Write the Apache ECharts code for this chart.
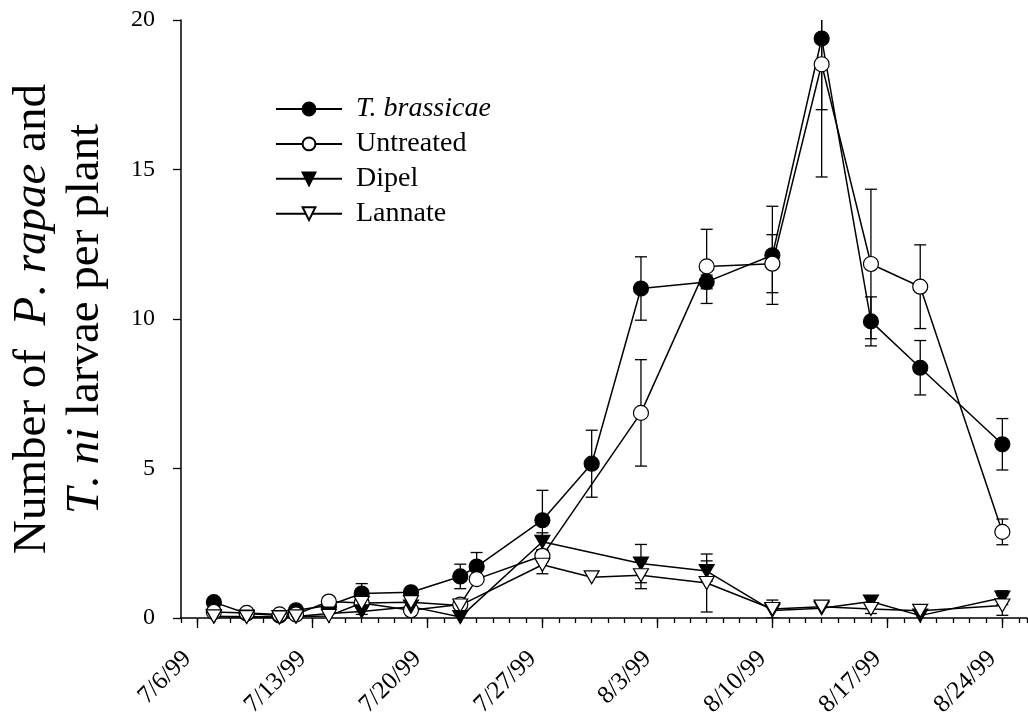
<!DOCTYPE html>
<html><head><meta charset="utf-8">
<script src="https://cdn.jsdelivr.net/npm/echarts@6/dist/echarts.min.js"></script>
<style>html,body{margin:0;padding:0;background:#fff}#c{width:1028px;height:721px}</style>
</head><body><div id="c"></div>
<script>
// ---- data ----
const seriesNames = ['T. brassicae', 'Untreated', 'Dipel', 'Lannate'];

const tbDates  = ['7/7','7/9','7/11','7/12','7/14','7/16','7/19','7/22','7/23','7/27','7/30','8/2','8/6','8/10','8/13','8/16','8/19','8/24'];
const tbValues = [0.53, 0.15, 0.08, 0.26, 0.42, 0.82, 0.86, 1.39, 1.72, 3.27, 5.16, 11.02, 11.24, 12.13, 19.38, 9.92, 8.37, 5.81];
const tbErrors = [0, 0, 0, 0, 0.1, 0.33, 0.1, 0.41, 0.47, 1.0, 1.12, 1.06, 0.23, 1.64, 2.38, 0.82, 0.91, 0.86];

const utDates  = ['7/7','7/9','7/11','7/12','7/14','7/16','7/19','7/22','7/23','7/27','8/2','8/6','8/10','8/13','8/16','8/19','8/24'];
const utValues = [0.2, 0.17, 0.12, 0.12, 0.55, 0.5, 0.26, 0.45, 1.3, 2.08, 6.86, 11.76, 11.85, 18.52, 11.84, 11.08, 2.88];
const utErrors = [0, 0, 0, 0, 0, 0, 0, 0, 0, 0.2, 1.78, 1.24, 0.97, 3.77, 2.5, 1.4, 0.43];

const dpDates  = ['7/7','7/9','7/11','7/12','7/14','7/16','7/19','7/22','7/27','8/2','8/6','8/10','8/13','8/16','8/19','8/24'];
const dpValues = [0.05, 0.05, 0.03, 0.05, 0.15, 0.22, 0.38, 0.03, 2.55, 1.82, 1.57, 0.25, 0.33, 0.55, 0.08, 0.68];
const dpErrors = [0, 0, 0, 0, 0, 0.1, 0, 0, 0.3, 0.64, 0.34, 0, 0, 0.1, 0, 0.23];

const lnDates  = ['7/7','7/9','7/11','7/12','7/14','7/16','7/19','7/22','7/27','7/30','8/2','8/6','8/10','8/13','8/16','8/19','8/24'];
const lnValues = [0.05, 0.03, 0.02, 0.05, 0.07, 0.5, 0.53, 0.42, 1.78, 1.36, 1.43, 1.17, 0.3, 0.38, 0.3, 0.24, 0.42];
const lnErrors = [0, 0, 0, 0, 0, 0, 0, 0, 0.3, 0, 0.45, 0.97, 0.3, 0, 0.15, 0, 0.33];

const xTickLabels = ['7/6/99','7/13/99','7/20/99','7/27/99','8/3/99','8/10/99','8/17/99','8/24/99'];
const yTicks = [0, 5, 10, 15, 20];

// ---- helpers ----
// day offset counted from 7/6/99
function dayOf(s) {
  const p = s.split('/').map(Number);
  return p[0] === 7 ? p[1] - 6 : p[1] + 25;
}
const xTickValues = xTickLabels.map(dayOf);
const FONT = '"Liberation Serif", "Times New Roman", serif';

function pts(dates, vals) { return dates.map((d, i) => [dayOf(d), vals[i]]); }
function errs(dates, vals, es) {
  const out = [];
  dates.forEach((d, i) => { if (es[i] > 0) out.push([dayOf(d), vals[i], es[i]]); });
  return out;
}

function renderErr(params, api) {
  const x = api.value(0), v = api.value(1), e = api.value(2);
  const top = api.coord([x, v + e]);
  const bot = api.coord([x, v - e]);
  const hw = 6;
  const style = { stroke: '#000', lineWidth: 1.3, fill: null };
  return { type: 'group', children: [
    { type: 'line', shape: { x1: top[0], y1: top[1], x2: bot[0], y2: bot[1] }, style: style },
    { type: 'line', shape: { x1: top[0] - hw, y1: top[1], x2: top[0] + hw, y2: top[1] }, style: style },
    { type: 'line', shape: { x1: bot[0] - hw, y1: bot[1], x2: bot[0] + hw, y2: bot[1] }, style: style }
  ]};
}

const allErr = [].concat(
  errs(tbDates, tbValues, tbErrors),
  errs(utDates, utValues, utErrors),
  errs(dpDates, dpValues, dpErrors),
  errs(lnDates, lnValues, lnErrors)
);

const lineStyle = { color: '#000', width: 1.5 };
function lineSeries(name, data, symbol, fill, size, rot) {
  return {
    type: 'line', name: name, data: data, z: 3,
    symbol: symbol, symbolSize: size, symbolRotate: rot,
    showAllSymbol: true,
    lineStyle: lineStyle,
    itemStyle: { color: fill, borderColor: '#000', borderWidth: 1.2, opacity: 1 },
    emphasis: { disabled: true },
    animation: false
  };
}

const axisLineStyle = { color: '#000', width: 1.5 };
const tickStyle = { color: '#000', width: 1.3 };
const legRich = { fontFamily: FONT, fontSize: 28, color: '#000', lineHeight: 30, padding: [0, 0, 0, 9] };

const option = {
  backgroundColor: '#fff',
  animation: false,
  grid: { left: 181, right: 1, top: 20, bottom: 103, containLabel: false, outerBoundsMode: 'none' },
  legend: {
    data: seriesNames,
    orient: 'vertical',
    left: 275, top: 94, padding: 0,
    itemWidth: 66, itemHeight: 16, itemGap: 4.9,
    selectedMode: false,
    formatter: function (n) { return n === 'T. brassicae' ? '{i|' + n + '}' : '{n|' + n + '}'; },
    textStyle: {
      fontFamily: FONT, fontSize: 28, color: '#000', lineHeight: 30,
      rich: {
        i: Object.assign({}, legRich, { fontStyle: 'italic' }),
        n: legRich
      }
    }
  },
  xAxis: [
    {
      type: 'value', min: -1, max: 50.5, interval: 1, position: 'bottom',
      axisLine: { show: true, onZero: false, lineStyle: axisLineStyle },
      axisTick: { show: true, length: 5, lineStyle: tickStyle },
      axisLabel: { show: false },
      splitLine: { show: false }
    },
    {
      type: 'value', min: -1, max: 50.5, position: 'bottom',
      axisLine: { show: false, onZero: false },
      axisTick: { show: true, length: 10, customValues: xTickValues, lineStyle: tickStyle },
      axisLabel: {
        show: true, customValues: xTickValues, rotate: 45, margin: 27, padding: [0, 14, 0, 0],
        fontFamily: FONT, fontSize: 25, color: '#000',
        formatter: function (v) { const i = xTickValues.indexOf(Math.round(v)); return i >= 0 ? xTickLabels[i] : ''; }
      },
      splitLine: { show: false }
    }
  ],
  yAxis: {
    type: 'value', min: 0, max: 20, interval: 5,
    axisLine: { show: true, onZero: false, lineStyle: axisLineStyle },
    axisTick: { show: true, length: 8, lineStyle: tickStyle },
    axisLabel: { margin: 26, fontFamily: FONT, fontSize: 24, color: '#000',
      formatter: function (v) { return yTicks.indexOf(v) >= 0 ? String(v) : ''; } },
    splitLine: { show: false },
    name: '{n|Number of  }{i|P}{n|. }{i|rapae}{n| and}\n{i|T}{n|. }{i|ni}{n| larvae per plant}',
    nameLocation: 'middle',
    nameGap: 69,
    nameTextStyle: {
      fontFamily: FONT, fontSize: 47, color: '#000', lineHeight: 53,
      rich: {
        n: { fontFamily: FONT, fontSize: 47, color: '#000', lineHeight: 53 },
        i: { fontFamily: FONT, fontSize: 47, color: '#000', lineHeight: 53, fontStyle: 'italic' }
      }
    }
  },
  series: [
    { type: 'custom', name: 'errors', data: allErr, renderItem: renderErr, z: 2, clip: true, silent: true, animation: false },
    lineSeries(seriesNames[0], pts(tbDates, tbValues), 'circle', '#000', 15, 0),
    lineSeries(seriesNames[1], pts(utDates, utValues), 'circle', '#fff', 15, 0),
    lineSeries(seriesNames[2], pts(dpDates, dpValues), 'triangle', '#000', [15, 13], 180),
    lineSeries(seriesNames[3], pts(lnDates, lnValues), 'triangle', '#fff', [15, 13], 180)
  ]
};

const chart = echarts.init(document.getElementById('c'), null, { renderer: 'canvas' });
chart.setOption(option);
</script>
</body></html>
